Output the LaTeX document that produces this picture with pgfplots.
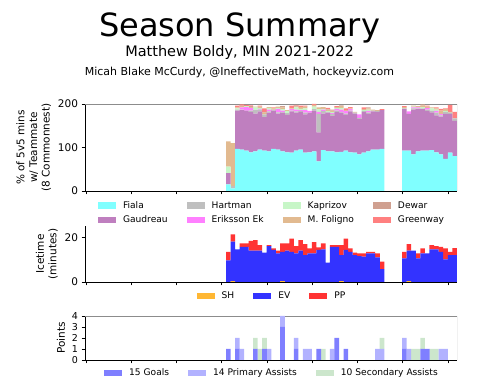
\documentclass[border=0pt]{standalone}
\usepackage{fontspec}
\setmainfont{DejaVu Sans}
\usepackage{pgfplots}
\usepackage{pgfplotstable}
\pgfplotsset{compat=1.18}

\definecolor{cFia}{RGB}{128,255,255}
\definecolor{cGau}{RGB}{191,127,191}
\definecolor{cHar}{RGB}{191,191,191}
\definecolor{cEE}{RGB}{255,128,255}
\definecolor{cKap}{RGB}{199,246,199}
\definecolor{cFol}{RGB}{226,186,144}
\definecolor{cDew}{RGB}{208,160,144}
\definecolor{cGrn}{RGB}{255,128,128}
\definecolor{cSH}{RGB}{255,183,51}
\definecolor{cEV}{RGB}{51,51,255}
\definecolor{cPP}{RGB}{255,51,51}
\definecolor{cG}{RGB}{127,127,255}
\definecolor{cP}{RGB}{178,178,255}
\definecolor{cS}{RGB}{204,230,204}
\definecolor{spinegray}{RGB}{140,140,140}

\pgfplotstableread{
x fia gau har ee kap fol dew grn
143.30 15 26 0 0 15 58 0 0
147.82 6 0 6 0 0 98 0 0
152.34 97 88 2 0 3 2 0 4
156.86 95 91 1 5 0 3 1 3
161.38 93 92 0 8 2 0 0 3
165.90 89 93 3 6 0 2 2 2
170.42 91 87 8 0 6 2 0 0
174.94 95 88 4 2 2 3 0 2
179.46 93 77 6 0 0 4 2 8
183.98 91 89 3 4 4 2 0 0
188.50 97 88 2 0 0 3 0 2
193.02 95 83 3 8 2 3 0 0
197.54 91 89 2 3 3 4 3 0
202.06 89 86 4 0 5 2 0 0
206.58 88 95 2 3 0 2 0 6
211.10 93 87 3 4 5 2 2 2
215.62 95 87 2 2 3 4 0 3
220.14 88 88 4 6 4 4 0 2
224.66 89 91 0 4 0 0 0 0
229.18 91 94 3 0 6 4 0 2
233.70 68 67 42 5 6 4 0 0
238.22 94 84 6 3 2 4 0 0
242.74 91 89 2 0 2 3 2 2
247.26 91 81 5 2 3 3 2 0
251.78 89 93 3 4 2 2 0 2
256.30 90 90 2 5 4 4 2 0
260.82 93 82 3 6 0 2 0 4
265.34 89 94 2 3 0 2 0 3
269.86 88 90 2 0 0 2 0 0
274.38 84 81 3 8 0 0 0 0
278.90 88 94 2 0 2 2 0 4
283.42 91 86 3 4 3 3 2 0
287.94 95 88 2 0 0 2 0 0
292.46 95 87 2 0 0 2 0 0
296.98 97 89 0 0 0 0 0 2
319.30 93 95 2 0 0 3 0 2
323.88 93 84 0 6 0 0 0 0
328.46 84 103 3 2 2 2 0 0
333.04 91 97 2 2 0 3 0 0
337.62 93 95 2 0 3 4 2 0
342.20 93 91 3 4 0 3 0 2
346.78 94 87 4 0 5 2 0 0
351.36 89 85 6 4 3 3 0 2
355.94 84 87 3 3 0 8 0 4
360.52 74 103 5 0 2 4 0 2
365.10 88 89 3 0 0 2 0 16
369.68 80 81 6 0 0 0 0 15
}\tmates

\pgfplotstableread{
x sh ev pp
143.30 0 9.6 3.8
147.82 0.4 17.6 3.3
152.34 0 14.6 0
156.86 0 15.7 1.5
161.38 0 15.7 1.5
165.90 0 14 4.4
170.42 0 14 4.7
174.94 0 14 2.5
179.46 0 13.1 0
183.98 0 16 0.5
188.50 0 14.3 0.7
193.02 0 12.8 1.2
197.54 0.4 13.1 3.7
202.06 0 14 3.2
206.58 0 13.5 5.9
211.10 0 12.8 3.2
215.62 0 14 4.7
220.14 0 12 4.9
224.66 0 12.8 2.2
229.18 0 12.8 5.0
233.70 0 14.3 1.1
238.22 0 14.6 2.6
242.74 0 8.6 0
247.26 0 15.7 0.8
251.78 0 15.7 0.8
256.30 0.4 11.6 4.5
260.82 0 14.3 5.1
265.34 0 13.5 1.5
269.86 0 12 1.1
274.38 0 11.6 1.2
278.90 0 11.3 1.5
283.42 0 12.8 0.7
287.94 0 12.8 0.7
292.46 0 11 1.8
296.98 0 5.7 3.4
319.30 0 10.6 2.8
323.88 0.4 13.6 2.9
328.46 0 14 0
333.04 0 10.6 2.2
337.62 0 12.8 2.2
342.20 0 12.8 0
346.78 0 14.6 1.9
351.36 0 14.6 1.4
355.94 0 13.5 2.2
360.52 0 10.1 4.9
365.10 0 12 1.4
369.68 0 12 3.1
}\icetime

\pgfplotstableread{
x g p s
143.30 1 0 0
152.34 1 1 0
156.86 0 1 0
170.42 1 0 1
174.94 0 0 1
179.46 1 0 1
183.98 0 1 0
197.54 3 1 0
211.10 1 1 0
220.14 0 1 0
224.66 0 1 0
233.70 1 0 0
238.22 0 0 1
247.26 0 1 0
251.78 2 0 0
260.82 1 0 0
292.46 0 1 0
296.98 0 1 1
319.30 1 1 0
323.88 0 1 0
328.46 0 0 1
333.04 0 0 1
337.62 1 0 1
342.20 1 0 0
346.78 0 0 1
351.36 0 0 1
355.94 0 1 0
360.52 0 1 0
}\points

\pgfplotsset{
  base/.style={
    scale only axis, width=372pt,
    xmin=0, xmax=372, enlargelimits=false,
    xtick={1,46.25,91.5,136.75,182,227.25,272.5,317.75,363},
    xticklabels={},
    tick align=outside, major tick length=3.5pt,
    axis x line*=bottom, axis y line*=left,
    tick style={black, line width=0.7pt},
    axis line style={black, line width=0.7pt},
    tick label style={font=\fontsize{10.5}{12}\selectfont},
    /pgf/number format/assume math mode=true,
    ylabel style={font=\fontsize{10.5}{12.6}\selectfont, align=center},
    ybar stacked, bar width=4.6,
    every axis plot post/.append style={draw=none,
      legend image code/.code={\fill[##1] (0pt,-3.2pt) rectangle (18pt,3.2pt);}},
    legend style={draw=none, fill=none, font=\fontsize{9.1}{11}\selectfont,
      at={(axis description cs:0.5,0)}, anchor=north,
      nodes={inner sep=0pt, text height=7pt, text depth=2pt},
      /tikz/every odd column/.append style={column sep=7pt},
      /tikz/every even column/.append style={column sep=19pt}},
    legend cell align=left,
  }
}

\begin{document}
\begin{tikzpicture}
\useasboundingbox (0,0) rectangle (479pt,382pt);
\node[anchor=base, font=\fontsize{32}{36}\selectfont] at (239.5pt,345pt) {Season Summary};
\node[anchor=base, font=\fontsize{14.5}{17}\selectfont] at (239.5pt,325pt) {Matthew Boldy, MIN 2021-2022};
\node[anchor=base, font=\fontsize{11}{13}\selectfont] at (239.5pt,306pt) {Micah Blake McCurdy, @IneffectiveMath, hockeyviz.com};

% Teammates
\begin{axis}[base, at={(85pt,191pt)}, anchor=south west, height=87pt,
  ymin=0, ymax=200, ytick={0,100,200},
  ylabel={\% of 5v5 mins\\w/ Teammate\\(8 Commonnest)},
  legend columns=2, transpose legend,
  legend style={yshift=-8pt, /tikz/row sep=5.5pt}]
\addplot[fill=cFia] table[x=x,y=fia]{\tmates};
\addplot[fill=cGau] table[x=x,y=gau]{\tmates};
\addplot[fill=cHar] table[x=x,y=har]{\tmates};
\addplot[fill=cEE] table[x=x,y=ee]{\tmates};
\addplot[fill=cKap] table[x=x,y=kap]{\tmates};
\addplot[fill=cFol] table[x=x,y=fol]{\tmates};
\addplot[fill=cDew] table[x=x,y=dew]{\tmates};
\addplot[fill=cGrn] table[x=x,y=grn]{\tmates};
\legend{Fiala,Gaudreau,Hartman,Eriksson Ek,Kaprizov,M. Foligno,Dewar,Greenway}
\draw[spinegray, line width=0.9pt] (rel axis cs:0,1) -- (rel axis cs:1,1) -- (rel axis cs:1,0);
\end{axis}

% Icetime
\begin{axis}[base, at={(85pt,100pt)}, anchor=south west, height=56pt,
  ymin=0, ymax=25, ytick={0,20},
  ylabel={Icetime\\(minutes)},
  legend columns=3,
  legend style={yshift=-7.5pt}]
\addplot[fill=cSH] table[x=x,y=sh]{\icetime};
\addplot[fill=cEV] table[x=x,y=ev]{\icetime};
\addplot[fill=cPP] table[x=x,y=pp]{\icetime};
\legend{SH,EV,PP}
\end{axis}

% Points
\begin{axis}[base, at={(85pt,22pt)}, anchor=south west, height=44pt,
  ymin=0, ymax=4, ytick={0,1,2,3,4},
  tick label style={font=\fontsize{9.5}{10}\selectfont},
  ylabel={Points},
  legend columns=3,
  legend style={yshift=-6.5pt}]
\addplot[fill=cG] table[x=x,y=g]{\points};
\addplot[fill=cP] table[x=x,y=p]{\points};
\addplot[fill=cS] table[x=x,y=s]{\points};
\legend{15 Goals,14 Primary Assists,10 Secondary Assists}
\draw[spinegray, line width=0.9pt] (rel axis cs:0,1) -- (rel axis cs:1,1) -- (rel axis cs:1,0);
\end{axis}
\end{tikzpicture}
\end{document}
